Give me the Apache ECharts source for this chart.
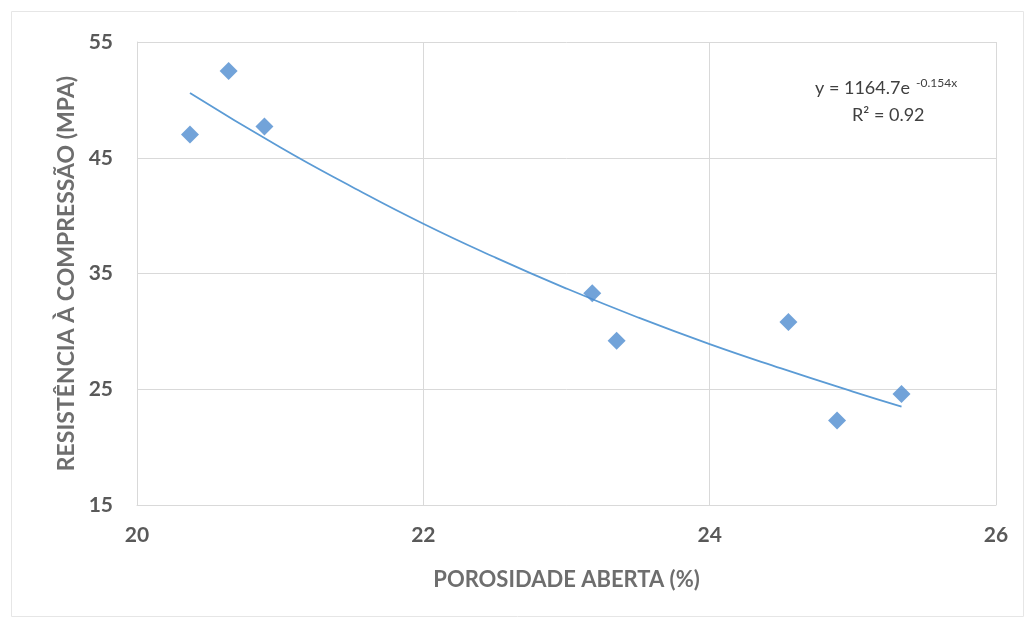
<!DOCTYPE html>
<html><head><meta charset="utf-8">
<script src="https://cdn.jsdelivr.net/npm/echarts@6/dist/echarts.min.js"></script>
<style>html,body{margin:0;padding:0;background:#fff}#c{width:1031px;height:622px}</style>
</head><body><div id="c"></div>
<script>
// Measured points: porosity (%) and compressive strength (MPa)
const porosity = [20.37, 20.64, 20.89, 23.18, 23.35, 24.55, 24.89, 25.34];
const strength = [47.0, 52.5, 47.7, 33.3, 29.2, 30.8, 22.3, 24.6];
// Trendline
const trendX = [20.37, 21.0, 21.5, 22.0, 22.5, 23.0, 23.5, 24.0, 24.5, 25.0, 25.34];
const trendY = [50.6, 45.9, 42.5, 39.3, 36.4, 33.7, 31.2, 28.9, 26.8, 24.8, 23.5];
const xTicks = [20, 22, 24, 26];
const yTicks = [15, 25, 35, 45, 55];
const eqText = 'y = 1164.7e';
const eqExp = '-0.154x';
const r2Text = 'R² = 0.92';

const font = 'Lato, "Open Sans", sans-serif';
const chart = echarts.init(document.getElementById('c'), null, {renderer: 'canvas'});
chart.setOption({
  animation: false,
  backgroundColor: '#fff',
  grid: {left: 137, right: 35, top: 42, bottom: 117},
  xAxis: {
    type: 'value', min: xTicks[0], max: xTicks[xTicks.length-1], interval: 2,
    name: 'POROSIDADE ABERTA (%)', nameLocation: 'middle', nameGap: 64,
    nameTextStyle: {fontFamily: font, fontSize: 22, fontWeight: 'bold', color: '#6e6e6e'},
    axisLine: {show: true, lineStyle: {color: '#d9d9d9'}},
    axisTick: {show: false},
    axisLabel: {fontFamily: font, fontSize: 21, fontWeight: 'bold', color: '#595959', margin: 20},
    splitLine: {show: true, lineStyle: {color: '#d9d9d9', width: 1}}
  },
  yAxis: {
    type: 'value', min: yTicks[0], max: yTicks[yTicks.length-1], interval: 10,
    name: 'RESISTÊNCIA À COMPRESSÃO (MPA)', nameLocation: 'middle', nameGap: 36,
    nameTextStyle: {fontFamily: font, fontSize: 23, fontWeight: 'bold', color: '#6e6e6e'},
    axisLine: {show: true, lineStyle: {color: '#d9d9d9'}},
    axisTick: {show: false},
    axisLabel: {fontFamily: font, fontSize: 21, fontWeight: 'bold', color: '#595959', margin: 24},
    splitLine: {show: true, lineStyle: {color: '#d9d9d9', width: 1}}
  },
  series: [
    {
      type: 'line', data: trendX.map((x, i) => [x, trendY[i]]),
      smooth: true, showSymbol: false, symbol: 'none',
      lineStyle: {color: '#5b9bd5', width: 1.8}, z: 2
    },
    {
      type: 'scatter', data: porosity.map((x, i) => [x, strength[i]]),
      symbol: 'diamond', symbolSize: [18, 18],
      itemStyle: {color: '#4f8ccf'}, z: 3
    }
  ],
  graphic: [
    {type: 'rect', left: 9, top: 9, shape: {width: 1012, height: 605},
     style: {fill: 'none', stroke: '#e6e6e6', lineWidth: 1}, silent: true},
    {type: 'text', left: 815, top: 79,
     style: {text: eqText, font: '18px ' + font, fill: '#404040'}},
    {type: 'text', left: 916, top: 77,
     style: {text: eqExp, font: '12px ' + font, fill: '#404040'}},
    {type: 'text', left: 852, top: 106,
     style: {text: r2Text, font: '18px ' + font, fill: '#404040'}}
  ]
});
</script></body></html>
